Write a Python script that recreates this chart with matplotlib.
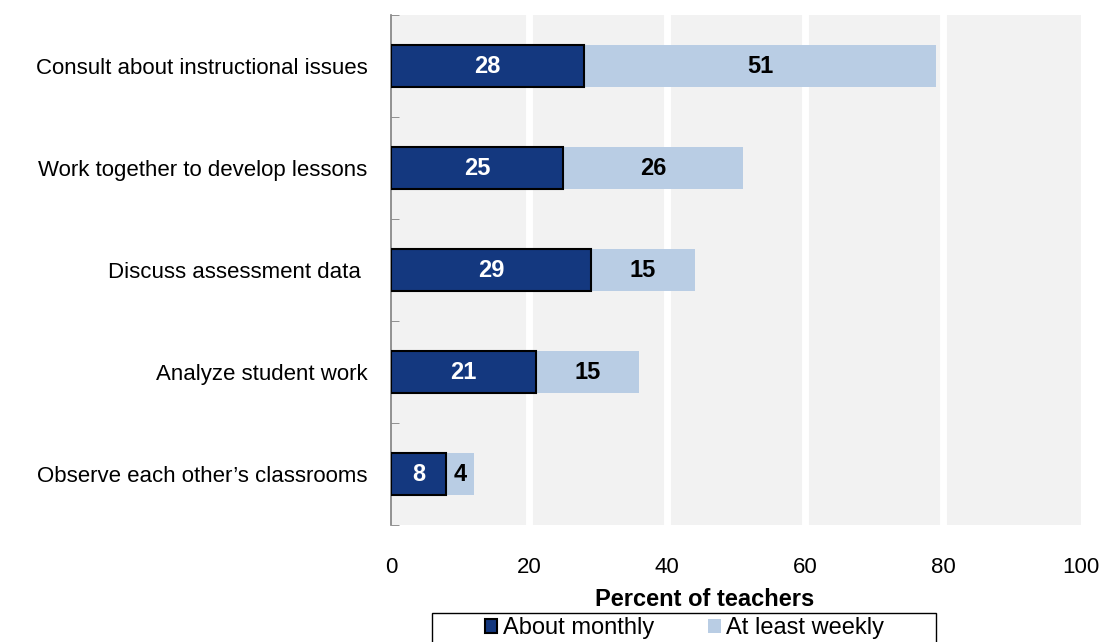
import numpy as np
import matplotlib.pyplot as plt
from matplotlib.patches import Rectangle
from matplotlib.ticker import FixedLocator, NullFormatter

plt.rcParams['font.family'] = ['Liberation Sans', 'DejaVu Sans']

categories = ['Consult about instructional issues',
              'Work together to develop lessons',
              'Discuss assessment data ',
              'Analyze student work',
              'Observe each other\u2019s classrooms']
monthly = [28, 25, 29, 21, 8]
weekly = [51, 26, 15, 15, 4]
series_names = ['About monthly', 'At least weekly']

dark = '#14387f'
light = '#b9cde4'
fs = 16

fig = plt.figure(figsize=(11.07, 6.42), dpi=100)
ax = fig.add_axes([0.3532, 0.1822, 0.6233, 0.7944])
ax.set_facecolor('#f2f2f2')

y = np.arange(len(categories))
h = 0.41
b1 = ax.barh(y, monthly, height=h, color=dark, edgecolor='black', linewidth=1.5,
             label=series_names[0], zorder=3)
b2 = ax.barh(y, weekly, left=monthly, height=h, color=light, edgecolor='none',
             label=series_names[1], zorder=2)

for rect, v in zip(b1, monthly):
    ax.text(rect.get_x() + rect.get_width() / 2, rect.get_y() + rect.get_height() / 2,
            str(v), ha='center', va='center', color='white', fontsize=17,
            fontweight='bold', zorder=4)
for rect, v in zip(b2, weekly):
    ax.text(rect.get_x() + rect.get_width() / 2, rect.get_y() + rect.get_height() / 2,
            str(v), ha='center', va='center', color='black', fontsize=17,
            fontweight='bold', zorder=4)

ax.set_xlim(0, 100)
ax.set_ylim(len(categories) - 0.5, -0.5)
ax.set_xticks([0, 20, 40, 60, 80, 100])
ax.set_yticks(y)
ax.set_yticklabels(categories, fontsize=fs)
ax.tick_params(axis='y', length=0, pad=17)
ax.yaxis.set_minor_locator(FixedLocator(np.arange(-0.5, len(categories), 1)))
ax.yaxis.set_minor_formatter(NullFormatter())
ax.tick_params(axis='y', which='minor', direction='in', length=6, color='#808080')
ax.tick_params(axis='x', length=0, labelsize=fs, pad=23)

for xv in [20, 40, 60, 80]:
    ax.axvline(xv, color='white', linewidth=5, zorder=1)

for s in ['top', 'right', 'bottom']:
    ax.spines[s].set_visible(False)
ax.spines['left'].set_color('#808080')
ax.spines['left'].set_linewidth(1.2)

ax.set_xlabel('Percent of teachers', fontsize=17, fontweight='bold', labelpad=7)
ax.xaxis.label.set_x(0.4543)

leg = ax.legend(loc='center', bbox_to_anchor=(0.4254, -0.2025), ncol=2,
                fontsize=17, frameon=False,
                handlelength=0.52, handleheight=0.52, handletextpad=0.25,
                columnspacing=2.3, borderpad=0, borderaxespad=0)
# legend outline, runs off the bottom of the figure like the original
fig.add_artist(Rectangle((432 / 1107, -0.02), 504 / 1107, (642 - 613) / 642 + 0.02,
                         transform=fig.transFigure, fill=False,
                         edgecolor='black', linewidth=1.0))

fig.savefig('out.png', dpi=100)
